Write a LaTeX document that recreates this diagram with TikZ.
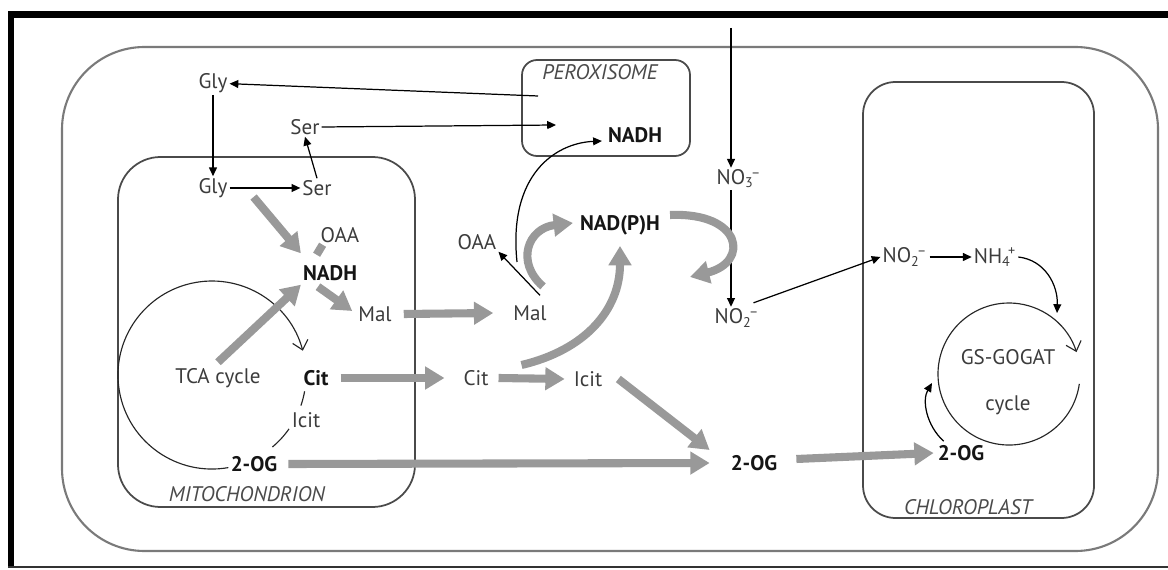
\documentclass[tikz,border=0pt]{standalone}
\usepackage{fontspec}
\setmainfont{PT Sans}
\usetikzlibrary{arrows.meta,calc}
\definecolor{txt}{HTML}{3C3C3C}
\definecolor{btxt}{HTML}{151515}
\definecolor{flux}{HTML}{999999}
\definecolor{cellc}{HTML}{7A7A7A}
\definecolor{orgc}{HTML}{4A4A4A}
\newcommand\chemion[3]{#1\textsubscript{#2}\kern-0.12em\textsuperscript{#3}}
\begin{document}
\begin{tikzpicture}[x=0.02cm,y=-0.02cm,
  lbl/.style={text=txt,font=\fontsize{12}{14}\selectfont,inner sep=1pt},
  blbl/.style={text=btxt,font=\fontsize{12}{14}\selectfont\bfseries,inner sep=1pt},
  comp/.style={text=orgc,font=\fontsize{12}{14}\selectfont\itshape,inner sep=1pt},
  thinarr/.style={draw=black,line width=0.7pt,-{Triangle[length=5pt,width=4.5pt]}},
  fluxarr/.style={draw=flux,line width=4.6pt,-{Triangle[length=11pt,width=12.5pt]}},
  fluxline/.style={draw=flux,line width=4.6pt},
  cyc/.style={draw=black!85,line width=0.65pt},
  cycarr/.style={cyc,-{Straight Barb[length=5pt,width=9pt]}},
  membrane/.style={draw=orgc,line width=1pt},
]
\useasboundingbox (0,0) rectangle (1168,570);
% frame
\fill[black] (8,11) rectangle (1168,18);
\fill[black] (8,11) rectangle (14,568);
\draw[black!80,line width=1.2pt] (8,567) -- (1168,567);
% compartments
\draw[draw=cellc,line width=1.2pt,rounded corners=1.65cm] (62,47) rectangle (1158,551);
\draw[membrane,rounded corners=0.85cm] (118,157) rectangle (415,507);
\draw[membrane,rounded corners=0.3cm] (522,60) rectangle (690,156);
\draw[membrane,rounded corners=0.65cm] (863,82) rectangle (1094,518);

% labels
\node[lbl] (glyT) at (213,83) {Gly};
\node[lbl] (serT) at (305,127) {Ser};
\node[lbl] (glyM) at (213,188) {Gly};
\node[lbl] (serM) at (317,188) {Ser};
\node[lbl] (oaaM) at (340,235) {OAA};
\node[blbl] (nadhM) at (330,273) {NADH};
\node[lbl] (malM) at (375,314) {Mal};
\node[lbl] (tca) at (218,378) {TCA cycle};
\node[blbl] (citM) at (316,378) {Cit};
\node[lbl] (icitM) at (306,420) {Icit};
\node[blbl] (ogM) at (254,464) {2-OG};
\node[comp] (mitoL) at (247,494) {MITOCHONDRION};
\node[comp] (peroxL) at (600,72) {PEROXISOME};
\node[blbl] (nadhP) at (635,135) {NADH};
\node[blbl] (nadph) at (620,225) {NAD(P)H};
\node[lbl] (oaaC) at (477,242) {OAA};
\node[lbl] (malC) at (530,313) {Mal};
\node[lbl] (citC) at (476,378) {Cit};
\node[lbl] (icitC) at (588,379) {Icit};
\node[blbl] (ogC) at (754,463) {2-OG};
\node[lbl] (no3) at (739,179) {\chemion{NO}{3}{–}};
\node[lbl] (no2C) at (737,318) {\chemion{NO}{2}{–}};
\node[lbl] (no2P) at (905,257) {\chemion{NO}{2}{–}};
\node[lbl] (nh4) at (995,257) {\chemion{NH}{4}{+}};
\node[lbl] (gsg) at (1008,357) {GS-GOGAT};
\node[lbl] (gcyc) at (1008,405) {cycle};
\node[blbl] (ogP) at (961,453) {2-OG};
\node[comp] (chlL) at (968,507) {CHLOROPLAST};

\coordinate (topin) at (731,28);
\coordinate (peroxOut) at (538,96);
\coordinate (peroxIn) at (556,125);
\coordinate (malBranch) at (517,262);
\coordinate (gsIn) at (1057,313);
\coordinate (gsLeft) at (932,383);

% thin black arrows
\draw[thinarr] (peroxOut) -- (glyT);
\draw[thinarr] (serT.east) -- (peroxIn);
\draw[thinarr] (glyT.south) -- (glyM.north);
\draw[thinarr] (glyM) -- (serM);
\draw[thinarr] (serM.north) -- (serT.south);
\draw[thinarr] ($(malC.north)+(10,-8)$) -- (oaaC.south east);
\draw[thinarr] (malBranch) .. controls (508,175) and (555,143) .. ($(nadhP.west)+(-4,6)$);
\draw[thinarr] (topin) -- (topin |- no3.north);
\draw[thinarr] (topin |- no3.south) -- (topin |- no2C.north);
\draw[thinarr] ($(no2C.north east)+(-8,-4)$) -- (no2P.west);
\draw[thinarr] (no2P) -- (nh4);
\draw[thinarr] (nh4.east) .. controls (1045,260) and (1058,285) .. (gsIn);

% cycles
\draw[cycarr] (228.3,467.6) arc[start angle=80,end angle=345,radius=94];
\draw[cyc] (304.6,391.3) arc[start angle=10,end angle=19,radius=94];
\draw[cyc] (289,428.9) arc[start angle=35,end angle=50,radius=94];
\draw[cycarr] (1079.3,383.9) arc[start angle=8,end angle=342,radius=71];
\draw[thinarr] ($(ogP.north west)+(8,-2)$) .. controls (926,425) and (922,400) .. (gsLeft);

% grey flux arrows
\draw[fluxarr] ($(glyM.east)+(24,9)$) -- ($(nadhM.north west)+(0,-10)$);
\draw[fluxline] ($(oaaM.south west)+(4,0)$) -- ++(-6,10);
\draw[fluxarr] ($(nadhM.south)+(-12,4)$) -- ($(malM.west)+(-4,-3)$);
\draw[fluxarr] ($(tca.north)+(0,-4)$) -- ($(nadhM.south west)+(0,2)$);
\draw[fluxarr] ($(malM.east)+(10,0)$) -- ($(malC.west)+(-18,0)$);
\draw[fluxarr] ($(citM.east)+(10,0)$) -- ($(citC.west)+(-17,0)$);
\draw[fluxarr] ($(citC.east)+(8,0)$) -- ($(icitC.west)+(-7,0)$);
\draw[fluxarr] ($(icitC.east)+(14,0)$) -- ($(ogC.west)+(-19,-13)$);
\draw[fluxarr] ($(ogM.east)+(9,0)$) -- ($(ogC.west)+(-19,0)$);
\draw[fluxarr] ($(ogC.east)+(17,-4)$) -- ($(ogP.west)+(-2,0)$);
\draw[fluxarr] ($(citC.east)+(31,-13)$) .. controls (585,350) and (620,310) .. ($(nadph.south)+(0,9)$);
\draw[fluxarr] ($(malC.north)+(13,-17)$) .. controls (515,262) and (528,228) .. ($(nadph.west)+(-5,-2)$);
\draw[fluxarr] ($(nadph.east)+(8,-10)$) .. controls (742,212) and (750,262) .. (690,277);
\end{tikzpicture}
\end{document}
